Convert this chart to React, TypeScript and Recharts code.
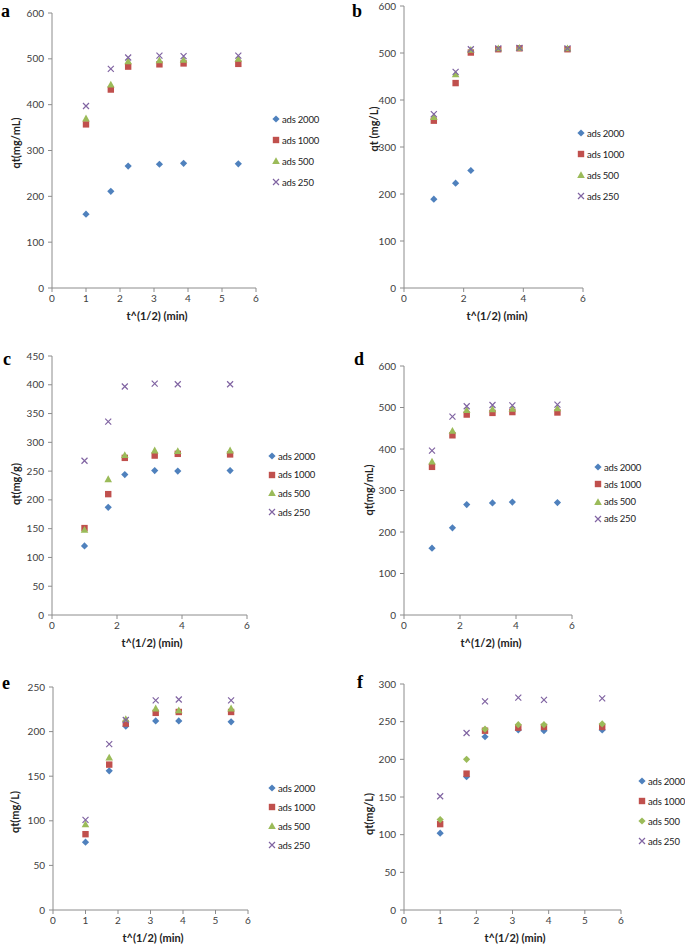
import { ScatterChart, Scatter, XAxis, YAxis } from "recharts"

// sqrt(t) sampling points shared by every panel
const xValues = [1, 1.73, 2.24, 3.16, 3.87, 5.48]
const seriesNames = ["ads 2000", "ads 1000", "ads 500", "ads 250"]

// panel a
const aAds2000 = [161, 211, 266, 270, 272, 271]
const aAds1000 = [357, 433, 483, 488, 490, 489]
const aAds500 = [370, 444, 495, 497, 498, 500]
const aAds250 = [397, 478, 503, 507, 506, 507]

// panel b (ads 2000 only has three readings)
const bAds2000 = [189, 223, 250]
const bAds1000 = [356, 436, 501, 508, 510, 508]
const bAds500 = [364, 455, 507, 510, 511, 510]
const bAds250 = [370, 460, 508, 510, 511, 510]

// panel c
const cAds2000 = [120, 187, 244, 251, 250, 251]
const cAds1000 = [151, 210, 273, 277, 280, 279]
const cAds500 = [148, 236, 278, 286, 285, 286]
const cAds250 = [268, 336, 397, 402, 401, 401]

// panel d
const dAds2000 = [161, 210, 266, 270, 272, 271]
const dAds1000 = [357, 433, 483, 487, 489, 488]
const dAds500 = [370, 444, 494, 496, 497, 498]
const dAds250 = [396, 478, 503, 506, 505, 507]

// panel e
const eAds2000 = [76, 156, 206, 212, 212, 211]
const eAds1000 = [85, 163, 209, 221, 222, 222]
const eAds500 = [96, 171, 214, 226, 224, 226]
const eAds250 = [101, 186, 213, 235, 236, 235]

// panel f
const fAds2000 = [102, 177, 230, 239, 238, 239]
const fAds1000 = [114, 181, 238, 242, 243, 243]
const fAds500 = [120, 200, 240, 246, 246, 247]
const fAds250 = [151, 235, 277, 282, 279, 281]

const xTicksFine = [0, 1, 2, 3, 4, 5, 6]
const xTicksCoarse = [0, 2, 4, 6]
const yTicks600 = [0, 100, 200, 300, 400, 500, 600]
const yTicks450 = [0, 50, 100, 150, 200, 250, 300, 350, 400, 450]
const yTicks250 = [0, 50, 100, 150, 200, 250]
const yTicks300 = [0, 50, 100, 150, 200, 250, 300]

const BLUE = "#4F81BD"
const RED = "#C0504D"
const GREEN = "#9BBB59"
const PURPLE = "#8064A2"
const AXIS = "#8c8c8c"
const FONT = "Lato, 'Liberation Sans', sans-serif"

type ShapeKind = "diamond" | "square" | "triangle" | "cross"

const Marker = ({ cx, cy, kind, color }: { cx: number; cy: number; kind: ShapeKind; color: string }) => {
  if (kind === "diamond") {
    const r = 3.6
    return <path d={`M${cx},${cy - r}L${cx + r},${cy}L${cx},${cy + r}L${cx - r},${cy}Z`} fill={color} />
  }
  if (kind === "square") {
    return <rect x={cx - 3.2} y={cy - 3.2} width={6.4} height={6.4} fill={color} />
  }
  if (kind === "triangle") {
    return <path d={`M${cx},${cy - 3.8}L${cx + 3.8},${cy + 3}L${cx - 3.8},${cy + 3}Z`} fill={color} />
  }
  const r = 3
  return (
    <path
      d={`M${cx - r},${cy - r}L${cx + r},${cy + r}M${cx - r},${cy + r}L${cx + r},${cy - r}`}
      stroke={color}
      strokeWidth={1.2}
      fill="none"
    />
  )
}

type Series = { name: string; values: number[]; color: string; kind: ShapeKind }

type Panel = {
  letter: string
  left: number
  top: number
  width: number
  height: number
  x0: number
  x1: number
  yTop: number
  y0: number
  xTicks: number[]
  yTicks: number[]
  yTitle: string
  yTitleX: number
  yTitleY: number
  xTitleX: number
  xTitleY: number
  letterX: number
  letterY: number
  legendX: number
  legendY: number
  legendGap: number
  series: Series[]
}

const makeSeries = (vals: number[][], kinds: ShapeKind[]): Series[] =>
  vals.map((v, i) => ({ name: seriesNames[i], values: v, color: [BLUE, RED, GREEN, PURPLE][i], kind: kinds[i] }))

const stdKinds: ShapeKind[] = ["diamond", "square", "triangle", "cross"]
const fKinds: ShapeKind[] = ["diamond", "square", "diamond", "cross"]

const panels: Panel[] = [
  {
    letter: "a", left: 0, top: 0, width: 345, height: 325,
    x0: 52, x1: 256, yTop: 13, y0: 288,
    xTicks: xTicksFine, yTicks: yTicks600,
    yTitle: "qt(mg/mL)", yTitleX: 15, yTitleY: 143, xTitleX: 157, xTitleY: 320,
    letterX: 1, letterY: 16,
    legendX: 276, legendY: 119, legendGap: 21,
    series: makeSeries([aAds2000, aAds1000, aAds500, aAds250], stdKinds),
  },
  {
    letter: "b", left: 340, top: 0, width: 345, height: 325,
    x0: 404, x1: 583, yTop: 6, y0: 288,
    xTicks: xTicksCoarse, yTicks: yTicks600,
    yTitle: "qt (mg/L)", yTitleX: 373, yTitleY: 129, xTitleX: 497, xTitleY: 320,
    letterX: 352, letterY: 16,
    legendX: 581, legendY: 133, legendGap: 21,
    series: makeSeries([bAds2000, bAds1000, bAds500, bAds250], stdKinds),
  },
  {
    letter: "c", left: 0, top: 325, width: 345, height: 325,
    x0: 52, x1: 247, yTop: 356, y0: 615,
    xTicks: xTicksCoarse, yTicks: yTicks450,
    yTitle: "qt(mg/g)", yTitleX: 15, yTitleY: 484, xTitleX: 152, xTitleY: 647,
    letterX: 3, letterY: 364,
    legendX: 272, legendY: 456, legendGap: 18.7,
    series: makeSeries([cAds2000, cAds1000, cAds500, cAds250], stdKinds),
  },
  {
    letter: "d", left: 340, top: 325, width: 345, height: 325,
    x0: 404, x1: 572, yTop: 366, y0: 615,
    xTicks: xTicksCoarse, yTicks: yTicks600,
    yTitle: "qt(mg/mL)", yTitleX: 368, yTitleY: 490, xTitleX: 491, xTitleY: 647,
    letterX: 354, letterY: 364,
    legendX: 598, legendY: 467, legendGap: 17.3,
    series: makeSeries([dAds2000, dAds1000, dAds500, dAds250], stdKinds),
  },
  {
    letter: "e", left: 0, top: 650, width: 345, height: 295,
    x0: 53, x1: 248, yTop: 687, y0: 910,
    xTicks: xTicksFine, yTicks: yTicks250,
    yTitle: "qt(mg/L)", yTitleX: 14, yTitleY: 812, xTitleX: 153, xTitleY: 942,
    letterX: 2, letterY: 688,
    legendX: 272, legendY: 788, legendGap: 19,
    series: makeSeries([eAds2000, eAds1000, eAds500, eAds250], stdKinds),
  },
  {
    letter: "f", left: 340, top: 650, width: 345, height: 295,
    x0: 404, x1: 621, yTop: 684, y0: 910,
    xTicks: xTicksFine, yTicks: yTicks300,
    yTitle: "qt(mg/L)", yTitleX: 368, yTitleY: 814, xTitleX: 515, xTitleY: 942,
    letterX: 357, letterY: 687,
    legendX: 642, legendY: 781, legendGap: 20,
    series: makeSeries([fAds2000, fAds1000, fAds500, fAds250], fKinds),
  },
]

const Y_AXIS_W = 30
const X_AXIS_H = 20

function PanelChart({ p }: { p: Panel }) {
  const margin = {
    top: p.yTop - p.top,
    left: p.x0 - p.left - Y_AXIS_W,
    right: p.left + p.width - p.x1,
    bottom: p.top + p.height - p.y0 - X_AXIS_H,
  }
  const yLabel = () => {
    const x = p.yTitleX - p.left
    const y = p.yTitleY - p.top
    return (
      <text x={x} y={y} transform={`rotate(-90 ${x} ${y})`} textAnchor="middle" dominantBaseline="central"
        fontSize={11} fontWeight="bold" fill="#222">
        {p.yTitle}
      </text>
    )
  }
  const xLabel = () => (
    <text x={p.xTitleX - p.left} y={p.xTitleY - p.top} textAnchor="middle" fontSize={11} fontWeight="bold" fill="#222">
      t^(1/2) (min)
    </text>
  )

  return (
    <div style={{ position: "absolute", left: p.left, top: p.top, width: p.width, height: p.height }}>
      <ScatterChart width={p.width} height={p.height} margin={margin}>
        <XAxis
          type="number"
          dataKey="x"
          domain={[0, 6]}
          ticks={p.xTicks}
          interval={0}
          height={X_AXIS_H}
          tickSize={4}
          tickMargin={3}
          stroke={AXIS}
          tick={{ fill: "#404040", fontSize: 10 }}
          label={xLabel}
        />
        <YAxis
          type="number"
          dataKey="y"
          domain={[0, p.yTicks[p.yTicks.length - 1]]}
          ticks={p.yTicks}
          interval={0}
          width={Y_AXIS_W}
          tickSize={4}
          tickMargin={4}
          stroke={AXIS}
          tick={{ fill: "#404040", fontSize: 10 }}
          label={yLabel}
        />
        {p.series.map((s) => (
          <Scatter
            key={s.name}
            name={s.name}
            data={s.values.map((v, i) => ({ x: xValues[i], y: v }))}
            fill={s.color}
            isAnimationActive={false}
            shape={(props: any) => <Marker cx={props.cx} cy={props.cy} kind={s.kind} color={s.color} />}
          />
        ))}
      </ScatterChart>

      <div
        style={{
          position: "absolute",
          left: p.letterX - p.left,
          top: p.letterY - p.top - 14,
          fontFamily: "'Liberation Serif', serif",
          fontWeight: "bold",
          fontSize: 18,
          lineHeight: "18px",
        }}
      >
        {p.letter}
      </div>

      {p.series.map((s, i) => (
        <div
          key={s.name}
          style={{
            position: "absolute",
            left: p.legendX - p.left - 4,
            top: p.legendY + i * p.legendGap - p.top - 7,
            height: 14,
            display: "flex",
            alignItems: "center",
            fontSize: 9.5,
            letterSpacing: -0.2,
            color: "#222",
            whiteSpace: "nowrap",
          }}
        >
          <svg width={8} height={8} style={{ display: "block" }}>
            <Marker cx={4} cy={4} kind={s.kind} color={s.color} />
          </svg>
          <span style={{ marginLeft: 2 }}>{s.name}</span>
        </div>
      ))}
    </div>
  )
}

export default function App() {
  return (
    <div
      style={{
        position: "absolute",
        left: 0,
        top: 0,
        width: 685,
        height: 945,
        background: "#fff",
        fontFamily: FONT,
        overflow: "hidden",
      }}
    >
      {panels.map((p) => (
        <PanelChart key={p.letter} p={p} />
      ))}
    </div>
  )
}
